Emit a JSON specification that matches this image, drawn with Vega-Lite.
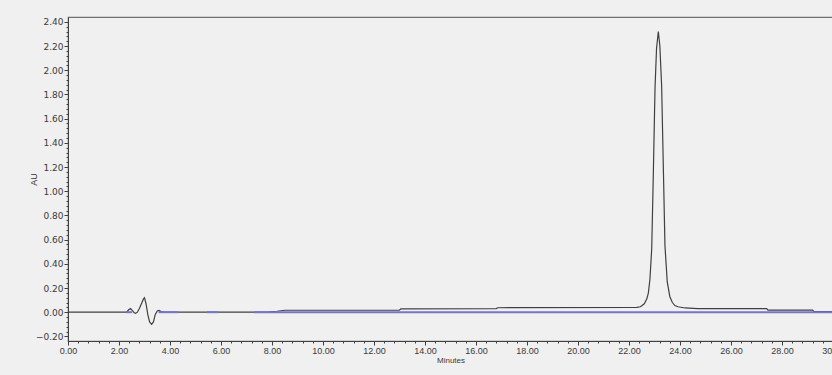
{
  "$schema": "https://vega.github.io/schema/vega-lite/v6.json",
  "width": 765,
  "height": 324,
  "autosize": {"type": "none"},
  "padding": {"left": 68, "top": 17, "right": 0, "bottom": 34},
  "background": "#f0f0f0",
  "config": {
    "view": {"stroke": "#707070", "strokeWidth": 1.2},
    "axis": {
      "domainColor": "#404040",
      "tickColor": "#404040",
      "labelColor": "#3a3a3a",
      "titleColor": "#3a3a3a",
      "grid": false,
      "labelFont": "Liberation Sans",
      "titleFont": "Liberation Sans",
      "titleFontWeight": "normal",
      "labelFontSize": 9,
      "titleFontSize": 8
    }
  },
  "datasets": {
    "trace": [
      {"minute": 0, "au": 0},
      {"minute": 2.3, "au": 0},
      {"minute": 2.38, "au": 0.02},
      {"minute": 2.45, "au": 0.03},
      {"minute": 2.52, "au": 0.015},
      {"minute": 2.6, "au": -0.005},
      {"minute": 2.65, "au": -0.01},
      {"minute": 2.72, "au": 0.0},
      {"minute": 2.8, "au": 0.03},
      {"minute": 2.9, "au": 0.08},
      {"minute": 2.96, "au": 0.11},
      {"minute": 3.0, "au": 0.12},
      {"minute": 3.06, "au": 0.07},
      {"minute": 3.13, "au": -0.02},
      {"minute": 3.2, "au": -0.08},
      {"minute": 3.28, "au": -0.1},
      {"minute": 3.35, "au": -0.08},
      {"minute": 3.42, "au": -0.02},
      {"minute": 3.5, "au": 0.01},
      {"minute": 3.57, "au": 0.015},
      {"minute": 3.65, "au": 0.005},
      {"minute": 3.75, "au": 0},
      {"minute": 7.8, "au": 0},
      {"minute": 8.2, "au": 0.008},
      {"minute": 8.5, "au": 0.016},
      {"minute": 13.0, "au": 0.017},
      {"minute": 13.05, "au": 0.028},
      {"minute": 16.8, "au": 0.03},
      {"minute": 16.85, "au": 0.037},
      {"minute": 22.3, "au": 0.04},
      {"minute": 22.45, "au": 0.045},
      {"minute": 22.6, "au": 0.07},
      {"minute": 22.7, "au": 0.11},
      {"minute": 22.76, "au": 0.16},
      {"minute": 22.82, "au": 0.27},
      {"minute": 22.89, "au": 0.52},
      {"minute": 22.95, "au": 1.1},
      {"minute": 23.02, "au": 1.85},
      {"minute": 23.08, "au": 2.18},
      {"minute": 23.15, "au": 2.32},
      {"minute": 23.21, "au": 2.2},
      {"minute": 23.28, "au": 1.87},
      {"minute": 23.35, "au": 1.16},
      {"minute": 23.41, "au": 0.55},
      {"minute": 23.5, "au": 0.25},
      {"minute": 23.6, "au": 0.13},
      {"minute": 23.7, "au": 0.08},
      {"minute": 23.8, "au": 0.055},
      {"minute": 23.92, "au": 0.045},
      {"minute": 24.2, "au": 0.035},
      {"minute": 24.7, "au": 0.03},
      {"minute": 27.4, "au": 0.03},
      {"minute": 27.45, "au": 0.018},
      {"minute": 29.2, "au": 0.018},
      {"minute": 29.25, "au": 0.005},
      {"minute": 30, "au": 0.005}
    ],
    "baseline": [
      {"seg": 1, "minute": 2.28, "au": 0},
      {"seg": 1, "minute": 2.52, "au": 0},
      {"seg": 2, "minute": 3.55, "au": 0},
      {"seg": 2, "minute": 4.33, "au": 0},
      {"seg": 3, "minute": 5.45, "au": 0},
      {"seg": 3, "minute": 5.9, "au": 0},
      {"seg": 4, "minute": 7.3, "au": 0},
      {"seg": 4, "minute": 30, "au": 0}
    ]
  },
  "layer": [
    {
      "data": {"name": "trace"},
      "mark": {"type": "line", "color": "#404040", "strokeWidth": 1.2, "clip": true},
      "encoding": {
        "x": {
          "field": "minute", "type": "quantitative",
          "scale": {"domain": [0, 30], "nice": false, "zero": false},
          "axis": {
            "title": "Minutes", "orient": "bottom",
            "values": [0, 2, 4, 6, 8, 10, 12, 14, 16, 18, 20, 22, 24, 26, 28, 30],
            "format": ".2f", "tickSize": 4, "labelPadding": 1, "titlePadding": 1,
            "labelFlush": false, "labelOverlap": false
          }
        },
        "y": {
          "field": "au", "type": "quantitative",
          "scale": {"domain": [-0.238, 2.44], "nice": false, "zero": false},
          "axis": {
            "title": "AU", "orient": "left",
            "values": [-0.2, 0, 0.2, 0.4, 0.6, 0.8, 1.0, 1.2, 1.4, 1.6, 1.8, 2.0, 2.2, 2.4],
            "format": ".2f", "tickSize": 4, "labelPadding": 1,
            "titleX": -30, "titleY": 162, "titleFontSize": 9,
            "labelFont": "DejaVu Sans", "labelFontSize": 9,
            "labelFlush": false, "labelOverlap": false
          }
        }
      }
    },
    {
      "data": {"name": "baseline"},
      "mark": {"type": "line", "color": "#7676c6", "strokeWidth": 2, "clip": true},
      "encoding": {
        "detail": {"field": "seg", "type": "nominal"},
        "x": {
          "field": "minute", "type": "quantitative",
          "axis": {
            "title": null, "orient": "bottom", "labels": false, "domain": false,
            "tickSize": 2,
            "values": [0.4, 0.8, 1.2, 1.6, 2.4, 2.8, 3.2, 3.6, 4.4, 4.8, 5.2, 5.6, 6.4, 6.8, 7.2, 7.6, 8.4, 8.8, 9.2, 9.6, 10.4, 10.8, 11.2, 11.6, 12.4, 12.8, 13.2, 13.6, 14.4, 14.8, 15.2, 15.6, 16.4, 16.8, 17.2, 17.6, 18.4, 18.8, 19.2, 19.6, 20.4, 20.8, 21.2, 21.6, 22.4, 22.8, 23.2, 23.6, 24.4, 24.8, 25.2, 25.6, 26.4, 26.8, 27.2, 27.6, 28.4, 28.8, 29.2, 29.6]
          }
        },
        "y": {
          "field": "au", "type": "quantitative",
          "axis": {
            "title": null, "orient": "left", "labels": false, "domain": false,
            "tickSize": 2,
            "values": [-0.16, -0.12, -0.08, -0.04, 0.04, 0.08, 0.12, 0.16, 0.24, 0.28, 0.32, 0.36, 0.44, 0.48, 0.52, 0.56, 0.64, 0.68, 0.72, 0.76, 0.84, 0.88, 0.92, 0.96, 1.04, 1.08, 1.12, 1.16, 1.24, 1.28, 1.32, 1.36, 1.44, 1.48, 1.52, 1.56, 1.64, 1.68, 1.72, 1.76, 1.84, 1.88, 1.92, 1.96, 2.04, 2.08, 2.12, 2.16, 2.24, 2.28, 2.32, 2.36]
          }
        }
      }
    }
  ],
  "resolve": {"axis": {"x": "independent", "y": "independent"}}
}
